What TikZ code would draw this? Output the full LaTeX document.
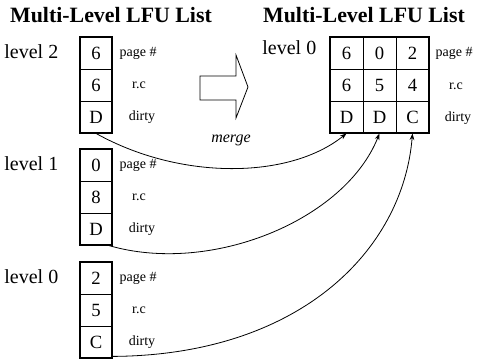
\documentclass[tikz,border=0pt]{standalone}
\usepackage{fontspec}
\setmainfont{Liberation Serif}
\usetikzlibrary{arrows.meta}
\begin{document}
\begin{tikzpicture}[x=0.75pt,y=-0.75pt,
  cell/.style={draw,line width=0.6pt,minimum width=24pt,minimum height=24pt,inner sep=0pt,font=\fontsize{14}{14}\selectfont},
  rcell/.style={cell,minimum width=24.75pt},
  outer/.style={line width=1.6pt},
  title/.style={font=\fontsize{16.4}{18}\selectfont\bfseries},
  lvl/.style={font=\fontsize{15}{16}\selectfont},
  fld/.style={font=\fontsize{10.5}{11}\selectfont},
  conn/.style={line width=0.6pt,-{Stealth[length=5pt,width=3.5pt]}}]
\useasboundingbox (0,0) rectangle (479,362);

% titles
\node[title] (t1) at (111,15) {Multi-Level LFU List};
\node[title] (t2) at (364,15) {Multi-Level LFU List};

% level 2 stack
\node[lvl,anchor=east] (l2) at (63,52) {level 2};
\node[cell] (a1) at (96,53) {6};
\node[cell] (a2) at (96,85) {6};
\node[cell] (a3) at (96,117) {D};
\draw[outer] (a1.north west) rectangle (a3.south east);
\node[fld,anchor=west] (pa1) at (115,53) {page \#};
\node[fld] (pa2) at (139,85) {r.c};
\node[fld] (pa3) at (142,117) {dirty};

% level 1 stack
\node[lvl,anchor=east] (l1) at (63,164) {level 1};
\node[cell] (b1) at (96,165) {0};
\node[cell] (b2) at (96,197) {8};
\node[cell] (b3) at (96,229) {D};
\draw[outer] (b1.north west) rectangle (b3.south east);
\node[fld,anchor=west] (pb1) at (115,165) {page \#};
\node[fld] (pb2) at (139,197) {r.c};
\node[fld] (pb3) at (142,229) {dirty};

% level 0 stack
\node[lvl,anchor=east] (l0) at (63,277) {level 0};
\node[cell] (c1) at (96,278) {2};
\node[cell] (c2) at (96,310) {5};
\node[cell] (c3) at (96,342) {C};
\draw[outer] (c1.north west) rectangle (c3.south east);
\node[fld,anchor=west] (pc1) at (115,278) {page \#};
\node[fld] (pc2) at (139,310) {r.c};
\node[fld] (pc3) at (142,342) {dirty};

% merged list
\node[lvl,anchor=east] (rl) at (321,48) {level 0};
\node[rcell] (r1a) at (346.5,53) {6};
\node[rcell] (r2a) at (379.5,53) {0};
\node[rcell] (r3a) at (412.5,53) {2};
\node[rcell] (r1b) at (346.5,85) {6};
\node[rcell] (r2b) at (379.5,85) {5};
\node[rcell] (r3b) at (412.5,85) {4};
\node[rcell] (r1c) at (346.5,117) {D};
\node[rcell] (r2c) at (379.5,117) {D};
\node[rcell] (r3c) at (412.5,117) {C};
\draw[outer] (r1a.north west) rectangle (r3c.south east);
\node[fld,anchor=west] (pr1) at (431,53) {page \#};
\node[fld] (pr2) at (456,86) {r.c};
\node[fld] (pr3) at (458,118) {dirty};

% block arrow
\draw[line width=0.6pt] (200,76) -- (236,76) -- (236,55) -- (248,87) -- (236,118) -- (236,100) -- (200,100) -- cycle;
\node[font=\fontsize{12}{12}\selectfont\itshape] (mg) at (231,140) {merge};

% connectors
\draw[conn] (a3.south) .. controls +(84,47) and +(-57,46) .. (r1c.south);
\draw[conn] ([xshift=-3pt]b3.south east) .. controls +(102,30) and +(-34.5,87) .. (r2c.south);
\draw[conn] ([yshift=1.5pt]c3.south east) .. controls +(187,-1) and +(-9.5,117) .. (r3c.south);
\end{tikzpicture}
\end{document}
